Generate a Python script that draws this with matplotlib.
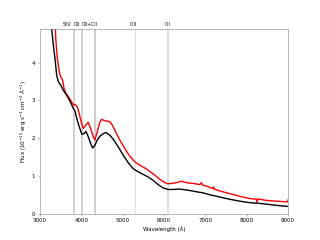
import matplotlib
matplotlib.use("Agg")
import matplotlib.pyplot as plt
import matplotlib.transforms as mtransforms

# Black spectrum (wavelength Å, flux)
black_wl = [3200, 3282, 3322, 3362, 3403, 3443, 3499, 3564, 3644, 3725, 3805, 3845,
            3886, 3950, 4014, 4063, 4111, 4167, 4224, 4272, 4328, 4385, 4449, 4530,
            4594, 4691, 4787, 4892, 5013, 5134, 5254, 5375, 5496, 5617, 5738, 5858,
            5979, 6100, 6221, 6382, 6583, 6784, 6945, 7106, 7348, 7590, 7831, 8072,
            8314, 8556, 8797, 9000]
black_flux = [5.6, 4.90, 4.47, 4.12, 3.67, 3.50, 3.41, 3.27, 3.14, 2.98, 2.79, 2.72,
              2.54, 2.30, 2.10, 2.12, 2.18, 2.04, 1.86, 1.74, 1.81, 1.95, 2.05, 2.12,
              2.15, 2.08, 1.95, 1.77, 1.55, 1.35, 1.19, 1.11, 1.04, 0.97, 0.88, 0.77,
              0.68, 0.64, 0.64, 0.65, 0.62, 0.58, 0.55, 0.50, 0.44, 0.38, 0.33, 0.29,
              0.27, 0.24, 0.21, 0.19]

# Red spectrum
red_wl = [3300, 3370, 3386, 3419, 3467, 3499, 3548, 3580, 3628, 3684, 3741, 3805,
          3845, 3902, 3950, 4006, 4047, 4111, 4167, 4224, 4288, 4328, 4385, 4449,
          4490, 4570, 4651, 4707, 4771, 4852, 4932, 5013, 5093, 5174, 5295, 5415,
          5536, 5657, 5778, 5899, 6019, 6100, 6180, 6301, 6422, 6543, 6704, 6865,
          6905, 6930, 7026, 7187, 7200, 7215, 7348, 7590, 7831, 8072, 8233, 8250,
          8270, 8475, 8717, 8960, 8990, 9000]
red_flux = [5.5, 4.90, 4.56, 4.12, 3.76, 3.63, 3.54, 3.32, 3.19, 3.10, 3.01, 2.88,
            2.90, 2.83, 2.65, 2.39, 2.26, 2.35, 2.42, 2.26, 2.04, 1.95, 2.17, 2.43,
            2.50, 2.46, 2.45, 2.42, 2.30, 2.12, 1.95, 1.80, 1.65, 1.52, 1.37, 1.28,
            1.21, 1.12, 1.02, 0.91, 0.82, 0.79, 0.80, 0.82, 0.86, 0.82, 0.80, 0.77,
            0.82, 0.76, 0.73, 0.66, 0.71, 0.65, 0.60, 0.53, 0.46, 0.40, 0.38, 0.30,
            0.39, 0.35, 0.33, 0.31, 0.31, 0.36]

# Line markers
line_names = ["SiIV", "OII", "OII+CII", "CIII", "CII"]
line_wl = [3813, 4023, 4328, 5303, 6100]
line_half_width = [24, 24, 28, 16, 16]
line_colors = ["#d2d2d2", "#d2d2d2", "#cecece", "#e0e0e0", "#e0e0e0"]
line_label_x = [3665, 3888, 4210, 5258, 6080]

fig = plt.figure(figsize=(6.4, 4.8), dpi=50)
ax = fig.add_subplot(111)

for wl, hw, c in zip(line_wl, line_half_width, line_colors):
    ax.axvspan(wl - hw, wl + hw, color=c, lw=0)

ax.plot(red_wl, red_flux, color="red", lw=2)
ax.plot(black_wl, black_flux, color="black", lw=2)

trans = mtransforms.blended_transform_factory(ax.transData, ax.transAxes)
for name, lx in zip(line_names, line_label_x):
    ax.text(lx, 1.012, name, transform=trans, ha="center", va="bottom", fontsize=6.5)

ax.set_xlim(3000, 9000)
ax.set_ylim(0, 4.9)
ax.set_xticks([3000, 4000, 5000, 6000, 7000, 8000, 9000])
ax.set_yticks([0, 1, 2, 3, 4])
ax.tick_params(labelsize=8, color="0.5")
for s in ax.spines.values():
    s.set_color("0.5")
ax.set_xlabel("Wavelength (Å)", fontsize=8)
ax.set_ylabel("Flux (10$^{-15}$ erg s$^{-1}$ cm$^{-2}$ Å$^{-1}$)", fontsize=8)

fig.savefig("out.png", dpi=50)
